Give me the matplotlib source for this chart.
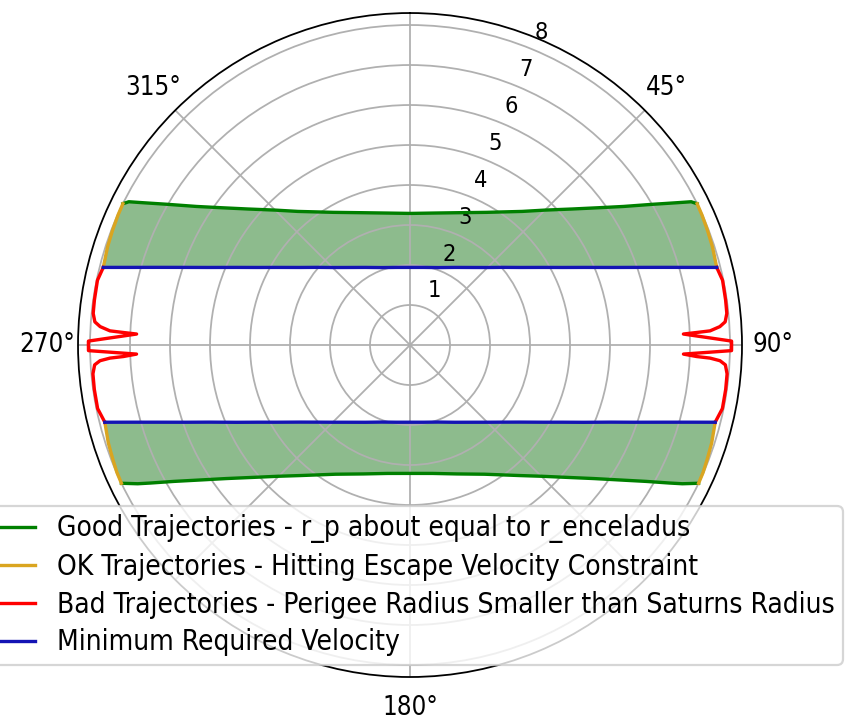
import numpy as np
import matplotlib
matplotlib.use("Agg")
import matplotlib.pyplot as plt
from matplotlib.transforms import ScaledTranslation

plt.rcParams["font.family"] = ["DejaVu Sans"]
plt.rcParams["font.stretch"] = "condensed"

# Launch direction (deg, clockwise from north) vs. required speed for each trajectory class
good_upper_theta = [-63.8, -63, -62, -60, -57, -54, -50, -45, -40, -30, -20, -10, 0,
                    10, 20, 30, 40, 45, 50, 54, 57, 60, 62, 63, 63.8]
good_upper_r = [8.00, 7.89, 7.58, 7.04, 6.36, 5.84, 5.29, 4.77, 4.36, 3.83, 3.52, 3.35, 3.29,
                3.35, 3.52, 3.83, 4.36, 4.77, 5.29, 5.84, 6.36, 7.04, 7.58, 7.89, 8.00]

good_lower_theta = [115.6, 117, 118, 120, 123, 126, 130, 135, 140, 150, 160, 170, 180,
                    190, 200, 210, 220, 225, 230, 234, 237, 240, 242, 243, 244.4]
good_lower_r = [8.00, 7.64, 7.35, 6.82, 6.19, 5.68, 5.15, 4.64, 4.26, 3.73, 3.43, 3.26, 3.21,
                3.26, 3.43, 3.73, 4.26, 4.64, 5.15, 5.68, 6.19, 6.82, 7.35, 7.64, 8.00]

ok_ur_theta = [63.8, 66, 69, 72, 75.8]
ok_ur_r = [8.00, 7.99, 7.97, 7.95, 7.91]
ok_lr_theta = [104.2, 108, 111, 113.5, 115.6]
ok_lr_r = [7.87, 7.93, 7.96, 7.99, 8.00]
ok_ll_theta = [244.4, 246.5, 249, 252, 255.8]
ok_ll_r = [8.00, 7.99, 7.96, 7.93, 7.87]
ok_ul_theta = [-75.8, -72, -69, -66, -63.8]
ok_ul_r = [7.91, 7.95, 7.97, 7.99, 8.00]

bad_right_theta = [75.8, 78.3, 81.9, 84.3, 85.8, 86.6, 87.3, 87.5, 87.7, 89.3, 90.0, 91.0,
                   91.9, 92.3, 92.5, 92.9, 93.6, 95.2, 98.0, 101.5, 104.2]
bad_right_r = [7.91, 7.98, 7.97, 7.96, 7.90, 7.76, 7.51, 7.17, 6.84, 8.04, 8.04, 8.04,
               6.84, 7.17, 7.51, 7.76, 7.90, 7.96, 7.97, 7.97, 7.87]
bad_left_theta = [255.8, 258.5, 262.0, 264.8, 266.4, 267.1, 267.5, 267.7, 268.1, 269.0, 270.0, 270.7,
                  272.3, 272.5, 272.7, 273.4, 274.2, 275.7, 278.1, 281.7, 284.2]
bad_left_r = [7.87, 7.97, 7.97, 7.96, 7.90, 7.76, 7.51, 7.17, 6.84, 8.04, 8.04, 8.04,
              6.84, 7.17, 7.51, 7.76, 7.90, 7.96, 7.97, 7.98, 7.91]

min_upper_theta = [-75.8, -74.5, -73, -71, -69, -66, -63, -60, -55, -50, -45, -40, -30, -20, -10, 0,
                   10, 20, 30, 40, 45, 50, 55, 60, 63, 66, 69, 71, 73, 74.5, 75.8]
min_upper_r = [7.91, 7.26, 6.64, 5.96, 5.41, 4.77, 4.27, 3.88, 3.38, 3.02, 2.74, 2.53, 2.24, 2.06, 1.97, 1.94,
               1.97, 2.06, 2.24, 2.53, 2.74, 3.02, 3.38, 3.88, 4.27, 4.77, 5.41, 5.96, 6.64, 7.26, 7.91]
min_lower_theta = [104.2, 105.5, 107, 109, 111, 114, 117, 120, 125, 130, 135, 140, 150, 160, 170, 180,
                   190, 200, 210, 220, 225, 230, 235, 240, 243, 246, 249, 251, 253, 254.5, 255.8]
min_lower_r = [7.87, 7.22, 6.60, 5.93, 5.38, 4.75, 4.25, 3.86, 3.36, 3.00, 2.73, 2.52, 2.23, 2.05, 1.96, 1.93,
               1.96, 2.05, 2.23, 2.52, 2.73, 3.00, 3.36, 3.86, 4.25, 4.75, 5.38, 5.93, 6.60, 7.22, 7.87]

r_ticks = [1, 2, 3, 4, 5, 6, 7, 8]
r_max = 8.3
theta_ticks = [0, 45, 90, 135, 180, 225, 270, 315]
theta_labels = ["", "45°", "90°", "", "180°", "", "270°", "315°"]

labels = ["Good Trajectories - r_p about equal to r_enceladus",
          "OK Trajectories - Hitting Escape Velocity Constraint",
          "Bad Trajectories - Perigee Radius Smaller than Saturns Radius",
          "Minimum Required Velocity"]

GOOD = "green"
OK = "goldenrod"
BAD = "red"
MIN = "#1414b4"
FILL = "#8dbb8d"

DPI = 161
fig = plt.figure(figsize=(848 / DPI, 723 / DPI), dpi=DPI)
ax = fig.add_axes([0.0920, 0.0636, 0.7830, 0.9184], projection="polar")
ax.set_theta_zero_location("N")
ax.set_theta_direction(-1)

rad = np.deg2rad

# shaded feasible bands between the minimum speed and the upper speed bound
upper_t = ok_ul_theta + good_upper_theta + ok_ur_theta + min_upper_theta[::-1]
upper_r = ok_ul_r + good_upper_r + ok_ur_r + min_upper_r[::-1]
lower_t = ok_lr_theta + good_lower_theta + ok_ll_theta + min_lower_theta[::-1]
lower_r = ok_lr_r + good_lower_r + ok_ll_r + min_lower_r[::-1]
ax.fill(rad(upper_t), upper_r, color=FILL, lw=0, zorder=1)
ax.fill(rad(lower_t), lower_r, color=FILL, lw=0, zorder=1)

lw = 1.5
ax.plot(rad(good_upper_theta), good_upper_r, color=GOOD, lw=lw, label=labels[0])
ax.plot(rad(good_lower_theta), good_lower_r, color=GOOD, lw=lw)
ax.plot(rad(ok_ur_theta), ok_ur_r, color=OK, lw=lw, label=labels[1])
for t, r in [(ok_lr_theta, ok_lr_r), (ok_ll_theta, ok_ll_r), (ok_ul_theta, ok_ul_r)]:
    ax.plot(rad(t), r, color=OK, lw=lw)
ax.plot(rad(bad_right_theta), bad_right_r, color=BAD, lw=lw, label=labels[2])
ax.plot(rad(bad_left_theta), bad_left_r, color=BAD, lw=lw)
ax.plot(rad(min_upper_theta), min_upper_r, color=MIN, lw=lw, label=labels[3])
ax.plot(rad(min_lower_theta), min_lower_r, color=MIN, lw=lw)

ax.set_rmax(r_max)
ax.set_rticks(r_ticks)
ax.set_rlabel_position(22.5)
ax.set_thetagrids(theta_ticks, theta_labels)
ax.tick_params(axis="x", labelsize=11.5)
ax.tick_params(axis="y", labelsize=10.5)

# nudge the radial labels a little outward
shift = ScaledTranslation(1 / 72, 2.5 / 72, fig.dpi_scale_trans)
for lab in ax.get_yticklabels():
    lab.set_transform(lab.get_transform() + shift)

ax.legend(loc="upper right", bbox_to_anchor=(843 / 848, 1 - 506 / 723),
          bbox_transform=fig.transFigure, borderaxespad=0, fontsize=12.5,
          labelspacing=0.345, borderpad=0.3)

fig.savefig("out.png", dpi=DPI)
